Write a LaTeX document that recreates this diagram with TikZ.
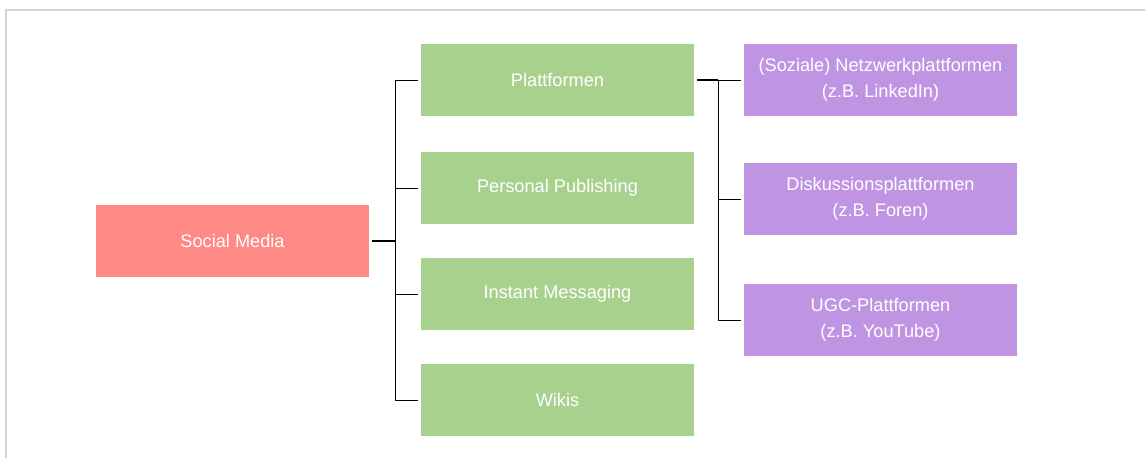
\documentclass[tikz,border=0pt]{standalone}
\usepackage{fontspec}
\setmainfont{Liberation Sans}
\definecolor{rootred}{HTML}{FF8985}
\definecolor{leafgreen}{HTML}{A9D18E}
\definecolor{subpurple}{HTML}{BF94E2}
\definecolor{framegray}{HTML}{D4D4D4}
\begin{document}
\begin{tikzpicture}[x=1pt,y=-1pt,
  box/.style={minimum width=273pt,minimum height=72pt,inner sep=0pt,text=white,
    font=\fontsize{18.2pt}{26pt}\selectfont,align=center,anchor=center},
  rootbox/.style={box,fill=rootred},
  greenbox/.style={box,fill=leafgreen},
  purplebox/.style={box,fill=subpurple},
  stub/.style={draw=black,line width=1.5pt},
  branch/.style={draw=black,line width=0.9pt,shorten >=3pt}
]
\useasboundingbox (0,0) rectangle (1145,458);
\draw[framegray,line width=2pt] (6,458) -- (6,10) -- (1145,10);

\node[rootbox] (root) at (232.5,241) {Social Media};

\node[greenbox] (g1) at (557.5,80) {Plattformen};
\node[greenbox] (g2) at (557.5,188) {Personal Publishing};
\node[greenbox] (g3) at (557.5,294) {Instant Messaging};
\node[greenbox] (g4) at (557.5,400) {Wikis};

\node[purplebox] (p1) at (880.5,80) {(Soziale) Netzwerkplattformen\\(z.B. LinkedIn)};
\node[purplebox] (p2) at (880.5,199) {Diskussionsplattformen\\(z.B. Foren)};
\node[purplebox] (p3) at (880.5,320) {UGC-Plattformen\\(z.B. YouTube)};

\coordinate (j1) at (395,241);
\coordinate (j2) at (718,80);

\draw[stub,shorten <=3pt] (root.east) -- (j1);
\draw[branch] (j1) |- (g1.west);
\draw[branch] (j1) |- (g2.west);
\draw[branch] (j1) |- (g3.west);
\draw[branch] (j1) |- (g4.west);

\draw[stub,shorten <=3pt] (g1.east) -- (j2);
\draw[branch] (j2) |- (p1.west);
\draw[branch] (j2) |- (p2.west);
\draw[branch] (j2) |- (p3.west);
\end{tikzpicture}
\end{document}
